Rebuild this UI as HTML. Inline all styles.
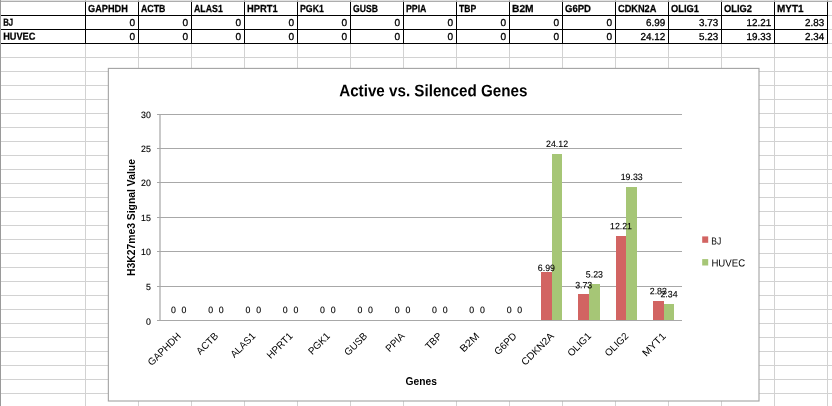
<!DOCTYPE html>
<html><head><meta charset="utf-8"><title>Active vs. Silenced Genes</title>
<style>html,body{margin:0;padding:0;background:#fff;overflow:hidden}body{width:832px;height:406px;font-family:"Liberation Sans",sans-serif}</style>
</head><body>
<svg width="832" height="406" viewBox="0 0 832 406" style="display:block;will-change:transform;font-family:'Liberation Sans',sans-serif">
<rect width="832" height="406" fill="#fff"/>
<path d="M0 1.5H832M0 15.5H832M0 29.5H832M0 43.5H832M0 57.5H832M0 71.5H832M0 85.5H832M0 99.5H832M0 113.5H832M0 127.5H832M0 141.5H832M0 155.5H832M0 169.5H832M0 183.5H832M0 197.5H832M0 211.5H832M0 225.5H832M0 239.5H832M0 253.5H832M0 267.5H832M0 281.5H832M0 295.5H832M0 309.5H832M0 323.5H832M0 337.5H832M0 351.5H832M0 365.5H832M0 379.5H832M0 393.5H832M0 407.5H832M85.5 0V406M138.5 0V406M191.5 0V406M244.5 0V406M297.5 0V406M350.5 0V406M403.5 0V406M456.5 0V406M509.5 0V406M562.5 0V406M615.5 0V406M668.5 0V406M721.5 0V406M774.5 0V406M827.5 0V406" stroke="#d2d2d2" stroke-width="1" fill="none" shape-rendering="crispEdges"/>
<rect x="0" y="0" width="832" height="1" fill="#e3e3e3"/><rect x="0" y="1" width="832" height="1" fill="#adadad"/>
<path d="M85.5 0V2M138.5 0V2M191.5 0V2M244.5 0V2M297.5 0V2M350.5 0V2M403.5 0V2M456.5 0V2M509.5 0V2M562.5 0V2M615.5 0V2M668.5 0V2M721.5 0V2M774.5 0V2M827.5 0V2" stroke="#8f8f8f" stroke-opacity="0.5" stroke-width="1" fill="none" shape-rendering="crispEdges"/>
<rect x="0" y="0" width="1" height="406" fill="#9a9a9a"/>
<path d="M1 15.5H828M1 29.5H828M1 43.5H828M85.5 2V44M138.5 2V44M191.5 2V44M244.5 2V44M297.5 2V44M350.5 2V44M403.5 2V44M456.5 2V44M509.5 2V44M562.5 2V44M615.5 2V44M668.5 2V44M721.5 2V44M774.5 2V44M827.5 2V44" stroke="#000" stroke-width="1" fill="none" shape-rendering="crispEdges"/>
<g font-size="10.2" fill="#000" font-weight="bold" stroke="#000" stroke-width="0.25">
<text transform="translate(88.00,12.00) rotate(0.05)" textLength="39.85" lengthAdjust="spacingAndGlyphs">GAPHDH</text>
<text transform="translate(141.00,12.00) rotate(0.05)" textLength="24.35" lengthAdjust="spacingAndGlyphs">ACTB</text>
<text transform="translate(194.00,12.00) rotate(0.05)" textLength="28.85" lengthAdjust="spacingAndGlyphs">ALAS1</text>
<text transform="translate(247.00,12.00) rotate(0.05)" textLength="30.60" lengthAdjust="spacingAndGlyphs">HPRT1</text>
<text transform="translate(300.00,12.00) rotate(0.05)" textLength="23.85" lengthAdjust="spacingAndGlyphs">PGK1</text>
<text transform="translate(353.00,12.00) rotate(0.05)" textLength="24.85" lengthAdjust="spacingAndGlyphs">GUSB</text>
<text transform="translate(406.00,12.00) rotate(0.05)" textLength="20.35" lengthAdjust="spacingAndGlyphs">PPIA</text>
<text transform="translate(459.00,12.00) rotate(0.05)" textLength="17.10" lengthAdjust="spacingAndGlyphs">TBP</text>
<text transform="translate(512.00,12.00) rotate(0.05)" textLength="21.60" lengthAdjust="spacingAndGlyphs">B2M</text>
<text transform="translate(565.00,12.00) rotate(0.05)" textLength="25.85" lengthAdjust="spacingAndGlyphs">G6PD</text>
<text transform="translate(618.00,12.00) rotate(0.05)" textLength="38.35" lengthAdjust="spacingAndGlyphs">CDKN2A</text>
<text transform="translate(671.00,12.00) rotate(0.05)" textLength="27.85" lengthAdjust="spacingAndGlyphs">OLIG1</text>
<text transform="translate(724.00,12.00) rotate(0.05)" textLength="27.85" lengthAdjust="spacingAndGlyphs">OLIG2</text>
<text transform="translate(777.00,12.00) rotate(0.05)" textLength="26.60" lengthAdjust="spacingAndGlyphs">MYT1</text>
<text transform="translate(3.20,25.70) rotate(0.05)" textLength="10.00" lengthAdjust="spacingAndGlyphs">BJ</text>
<text transform="translate(3.20,39.70) rotate(0.05)" textLength="32.20" lengthAdjust="spacingAndGlyphs">HUVEC</text>
</g>
<g font-size="10.0" fill="#000" stroke="#000" stroke-width="0.3">
<text transform="translate(135.20,25.90) rotate(0.05)" text-anchor="end" textLength="5.62" lengthAdjust="spacingAndGlyphs">0</text>
<text transform="translate(135.20,39.90) rotate(0.05)" text-anchor="end" textLength="5.62" lengthAdjust="spacingAndGlyphs">0</text>
<text transform="translate(188.20,25.90) rotate(0.05)" text-anchor="end" textLength="5.62" lengthAdjust="spacingAndGlyphs">0</text>
<text transform="translate(188.20,39.90) rotate(0.05)" text-anchor="end" textLength="5.62" lengthAdjust="spacingAndGlyphs">0</text>
<text transform="translate(241.20,25.90) rotate(0.05)" text-anchor="end" textLength="5.62" lengthAdjust="spacingAndGlyphs">0</text>
<text transform="translate(241.20,39.90) rotate(0.05)" text-anchor="end" textLength="5.62" lengthAdjust="spacingAndGlyphs">0</text>
<text transform="translate(294.20,25.90) rotate(0.05)" text-anchor="end" textLength="5.62" lengthAdjust="spacingAndGlyphs">0</text>
<text transform="translate(294.20,39.90) rotate(0.05)" text-anchor="end" textLength="5.62" lengthAdjust="spacingAndGlyphs">0</text>
<text transform="translate(347.20,25.90) rotate(0.05)" text-anchor="end" textLength="5.62" lengthAdjust="spacingAndGlyphs">0</text>
<text transform="translate(347.20,39.90) rotate(0.05)" text-anchor="end" textLength="5.62" lengthAdjust="spacingAndGlyphs">0</text>
<text transform="translate(400.20,25.90) rotate(0.05)" text-anchor="end" textLength="5.62" lengthAdjust="spacingAndGlyphs">0</text>
<text transform="translate(400.20,39.90) rotate(0.05)" text-anchor="end" textLength="5.62" lengthAdjust="spacingAndGlyphs">0</text>
<text transform="translate(453.20,25.90) rotate(0.05)" text-anchor="end" textLength="5.62" lengthAdjust="spacingAndGlyphs">0</text>
<text transform="translate(453.20,39.90) rotate(0.05)" text-anchor="end" textLength="5.62" lengthAdjust="spacingAndGlyphs">0</text>
<text transform="translate(506.20,25.90) rotate(0.05)" text-anchor="end" textLength="5.62" lengthAdjust="spacingAndGlyphs">0</text>
<text transform="translate(506.20,39.90) rotate(0.05)" text-anchor="end" textLength="5.62" lengthAdjust="spacingAndGlyphs">0</text>
<text transform="translate(559.20,25.90) rotate(0.05)" text-anchor="end" textLength="5.62" lengthAdjust="spacingAndGlyphs">0</text>
<text transform="translate(559.20,39.90) rotate(0.05)" text-anchor="end" textLength="5.62" lengthAdjust="spacingAndGlyphs">0</text>
<text transform="translate(612.20,25.90) rotate(0.05)" text-anchor="end" textLength="5.62" lengthAdjust="spacingAndGlyphs">0</text>
<text transform="translate(612.20,39.90) rotate(0.05)" text-anchor="end" textLength="5.62" lengthAdjust="spacingAndGlyphs">0</text>
<text transform="translate(665.20,25.90) rotate(0.05)" text-anchor="end" textLength="19.18" lengthAdjust="spacingAndGlyphs">6.99</text>
<text transform="translate(665.20,39.90) rotate(0.05)" text-anchor="end" textLength="24.60" lengthAdjust="spacingAndGlyphs">24.12</text>
<text transform="translate(718.20,25.90) rotate(0.05)" text-anchor="end" textLength="19.18" lengthAdjust="spacingAndGlyphs">3.73</text>
<text transform="translate(718.20,39.90) rotate(0.05)" text-anchor="end" textLength="19.18" lengthAdjust="spacingAndGlyphs">5.23</text>
<text transform="translate(771.20,25.90) rotate(0.05)" text-anchor="end" textLength="24.60" lengthAdjust="spacingAndGlyphs">12.21</text>
<text transform="translate(771.20,39.90) rotate(0.05)" text-anchor="end" textLength="24.60" lengthAdjust="spacingAndGlyphs">19.33</text>
<text transform="translate(824.20,25.90) rotate(0.05)" text-anchor="end" textLength="19.18" lengthAdjust="spacingAndGlyphs">2.83</text>
<text transform="translate(824.20,39.90) rotate(0.05)" text-anchor="end" textLength="19.18" lengthAdjust="spacingAndGlyphs">2.34</text>
</g>
<rect x="108.35" y="68.4" width="650.65" height="332.6" fill="#fff" stroke="#a2a2a2" stroke-width="1.1"/>
<path d="M157 114.5H682M157 148.5H682M157 182.5H682M157 217.5H682M157 251.5H682M157 286.5H682" stroke="#a8a8a8" stroke-width="1" fill="none" shape-rendering="crispEdges"/>
<rect x="541" y="272" width="11" height="49" fill="#D26462"/>
<rect x="552" y="154" width="10" height="167" fill="#A6C676"/>
<rect x="578" y="294" width="11" height="27" fill="#D26462"/>
<rect x="589" y="284" width="11" height="37" fill="#A6C676"/>
<rect x="616" y="236" width="10" height="85" fill="#D26462"/>
<rect x="626" y="187" width="11" height="134" fill="#A6C676"/>
<rect x="653" y="301" width="11" height="20" fill="#D26462"/>
<rect x="664" y="304" width="10" height="17" fill="#A6C676"/>
<path d="M157 320.5H682" stroke="#a8a8a8" stroke-width="1" fill="none" shape-rendering="crispEdges"/>
<rect x="159" y="114" width="2" height="207" fill="#a8a8a8" fill-opacity="0.62"/>
<g font-size="9.1" fill="#000" stroke="#000" stroke-width="0.12">
<text transform="translate(150.80,118.00) rotate(0.05)" text-anchor="end" textLength="9.77" lengthAdjust="spacingAndGlyphs">30</text>
<text transform="translate(150.80,152.00) rotate(0.05)" text-anchor="end" textLength="9.77" lengthAdjust="spacingAndGlyphs">25</text>
<text transform="translate(150.80,186.00) rotate(0.05)" text-anchor="end" textLength="9.77" lengthAdjust="spacingAndGlyphs">20</text>
<text transform="translate(150.80,221.00) rotate(0.05)" text-anchor="end" textLength="9.77" lengthAdjust="spacingAndGlyphs">15</text>
<text transform="translate(150.80,255.00) rotate(0.05)" text-anchor="end" textLength="9.77" lengthAdjust="spacingAndGlyphs">10</text>
<text transform="translate(150.80,290.00) rotate(0.05)" text-anchor="end" textLength="4.88" lengthAdjust="spacingAndGlyphs">5</text>
<text transform="translate(150.80,324.80) rotate(0.05)" text-anchor="end" textLength="4.88" lengthAdjust="spacingAndGlyphs">0</text>
<text transform="translate(173.32,313.00) rotate(0.05)" text-anchor="middle" textLength="4.88" lengthAdjust="spacingAndGlyphs">0</text>
<text transform="translate(183.98,313.00) rotate(0.05)" text-anchor="middle" textLength="4.88" lengthAdjust="spacingAndGlyphs">0</text>
<text transform="translate(210.63,313.00) rotate(0.05)" text-anchor="middle" textLength="4.88" lengthAdjust="spacingAndGlyphs">0</text>
<text transform="translate(221.29,313.00) rotate(0.05)" text-anchor="middle" textLength="4.88" lengthAdjust="spacingAndGlyphs">0</text>
<text transform="translate(247.94,313.00) rotate(0.05)" text-anchor="middle" textLength="4.88" lengthAdjust="spacingAndGlyphs">0</text>
<text transform="translate(258.60,313.00) rotate(0.05)" text-anchor="middle" textLength="4.88" lengthAdjust="spacingAndGlyphs">0</text>
<text transform="translate(285.25,313.00) rotate(0.05)" text-anchor="middle" textLength="4.88" lengthAdjust="spacingAndGlyphs">0</text>
<text transform="translate(295.90,313.00) rotate(0.05)" text-anchor="middle" textLength="4.88" lengthAdjust="spacingAndGlyphs">0</text>
<text transform="translate(322.55,313.00) rotate(0.05)" text-anchor="middle" textLength="4.88" lengthAdjust="spacingAndGlyphs">0</text>
<text transform="translate(333.21,313.00) rotate(0.05)" text-anchor="middle" textLength="4.88" lengthAdjust="spacingAndGlyphs">0</text>
<text transform="translate(359.86,313.00) rotate(0.05)" text-anchor="middle" textLength="4.88" lengthAdjust="spacingAndGlyphs">0</text>
<text transform="translate(370.52,313.00) rotate(0.05)" text-anchor="middle" textLength="4.88" lengthAdjust="spacingAndGlyphs">0</text>
<text transform="translate(397.17,313.00) rotate(0.05)" text-anchor="middle" textLength="4.88" lengthAdjust="spacingAndGlyphs">0</text>
<text transform="translate(407.83,313.00) rotate(0.05)" text-anchor="middle" textLength="4.88" lengthAdjust="spacingAndGlyphs">0</text>
<text transform="translate(434.47,313.00) rotate(0.05)" text-anchor="middle" textLength="4.88" lengthAdjust="spacingAndGlyphs">0</text>
<text transform="translate(445.13,313.00) rotate(0.05)" text-anchor="middle" textLength="4.88" lengthAdjust="spacingAndGlyphs">0</text>
<text transform="translate(471.78,313.00) rotate(0.05)" text-anchor="middle" textLength="4.88" lengthAdjust="spacingAndGlyphs">0</text>
<text transform="translate(482.44,313.00) rotate(0.05)" text-anchor="middle" textLength="4.88" lengthAdjust="spacingAndGlyphs">0</text>
<text transform="translate(509.09,313.00) rotate(0.05)" text-anchor="middle" textLength="4.88" lengthAdjust="spacingAndGlyphs">0</text>
<text transform="translate(519.75,313.00) rotate(0.05)" text-anchor="middle" textLength="4.88" lengthAdjust="spacingAndGlyphs">0</text>
<text transform="translate(546.40,270.90) rotate(0.05)" text-anchor="middle" textLength="17.09" lengthAdjust="spacingAndGlyphs">6.99</text>
<text transform="translate(557.05,147.10) rotate(0.05)" text-anchor="middle" textLength="21.98" lengthAdjust="spacingAndGlyphs">24.12</text>
<text transform="translate(583.70,288.20) rotate(0.05)" text-anchor="middle" textLength="17.09" lengthAdjust="spacingAndGlyphs">3.73</text>
<text transform="translate(594.36,277.40) rotate(0.05)" text-anchor="middle" textLength="17.09" lengthAdjust="spacingAndGlyphs">5.23</text>
<text transform="translate(621.01,229.30) rotate(0.05)" text-anchor="middle" textLength="21.98" lengthAdjust="spacingAndGlyphs">12.21</text>
<text transform="translate(631.67,180.10) rotate(0.05)" text-anchor="middle" textLength="21.98" lengthAdjust="spacingAndGlyphs">19.33</text>
<text transform="translate(658.32,294.20) rotate(0.05)" text-anchor="middle" textLength="17.09" lengthAdjust="spacingAndGlyphs">2.83</text>
<text transform="translate(668.98,297.30) rotate(0.05)" text-anchor="middle" textLength="17.09" lengthAdjust="spacingAndGlyphs">2.34</text>
</g>
<g font-size="10.0" fill="#000">
<text transform="translate(181.45,336.7) rotate(-45)" text-anchor="end" textLength="41.93" lengthAdjust="spacingAndGlyphs">GAPHDH</text>
<text transform="translate(218.76,336.7) rotate(-45)" text-anchor="end" textLength="26.14" lengthAdjust="spacingAndGlyphs">ACTB</text>
<text transform="translate(256.07,336.7) rotate(-45)" text-anchor="end" textLength="30.51" lengthAdjust="spacingAndGlyphs">ALAS1</text>
<text transform="translate(293.38,336.7) rotate(-45)" text-anchor="end" textLength="31.95" lengthAdjust="spacingAndGlyphs">HPRT1</text>
<text transform="translate(330.68,336.7) rotate(-45)" text-anchor="end" textLength="26.15" lengthAdjust="spacingAndGlyphs">PGK1</text>
<text transform="translate(367.99,336.7) rotate(-45)" text-anchor="end" textLength="27.77" lengthAdjust="spacingAndGlyphs">GUSB</text>
<text transform="translate(405.30,336.7) rotate(-45)" text-anchor="end" textLength="22.33" lengthAdjust="spacingAndGlyphs">PPIA</text>
<text transform="translate(442.60,336.7) rotate(-45)" text-anchor="end" textLength="19.06" lengthAdjust="spacingAndGlyphs">TBP</text>
<text transform="translate(479.91,336.7) rotate(-45)" text-anchor="end" textLength="22.75" lengthAdjust="spacingAndGlyphs">B2M</text>
<text transform="translate(517.22,336.7) rotate(-45)" text-anchor="end" textLength="26.69" lengthAdjust="spacingAndGlyphs">G6PD</text>
<text transform="translate(554.52,336.7) rotate(-45)" text-anchor="end" textLength="41.36" lengthAdjust="spacingAndGlyphs">CDKN2A</text>
<text transform="translate(591.83,336.7) rotate(-45)" text-anchor="end" textLength="28.87" lengthAdjust="spacingAndGlyphs">OLIG1</text>
<text transform="translate(629.14,336.7) rotate(-45)" text-anchor="end" textLength="28.87" lengthAdjust="spacingAndGlyphs">OLIG2</text>
<text transform="translate(666.45,336.7) rotate(-45)" text-anchor="end" textLength="28.74" lengthAdjust="spacingAndGlyphs">MYT1</text>
</g>
<text transform="translate(433.30,96.30) rotate(0.05)" text-anchor="middle" textLength="188.20" lengthAdjust="spacingAndGlyphs" font-size="16.6" font-weight="bold" fill="#000">Active vs. Silenced Genes</text>
<text transform="translate(421.20,384.90) rotate(0.05)" text-anchor="middle" textLength="31.30" lengthAdjust="spacingAndGlyphs" font-size="11.3" font-weight="bold" fill="#000">Genes</text>
<text transform="translate(134.7,217.6) rotate(-90)" text-anchor="middle" textLength="117.0" lengthAdjust="spacingAndGlyphs" font-size="11.2" font-weight="bold" fill="#000">H3K27me3 Signal Value</text>
<rect x="702.2" y="236.4" width="6" height="6.4" fill="#D26462"/>
<rect x="702.2" y="259.1" width="6" height="6.4" fill="#A6C676"/>
<g font-size="10.3" fill="#000"><text transform="translate(711.30,244.50) rotate(0.05)" textLength="10.00" lengthAdjust="spacingAndGlyphs">BJ</text><text transform="translate(711.40,266.50) rotate(0.05)" textLength="33.70" lengthAdjust="spacingAndGlyphs">HUVEC</text></g>
</svg>
</body></html>
